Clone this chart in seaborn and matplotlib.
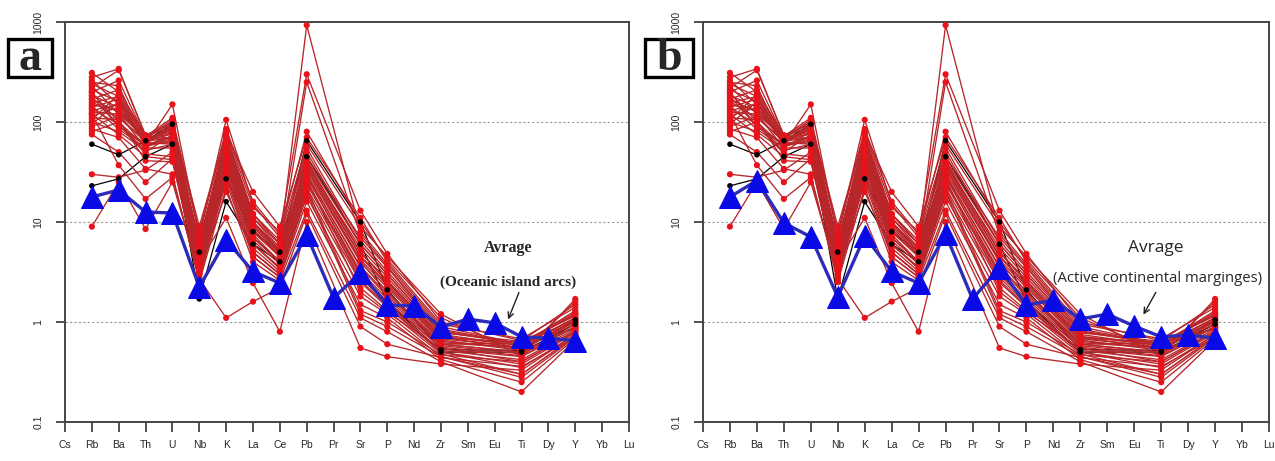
import numpy as np
import pandas as pd
import matplotlib
matplotlib.use("Agg")
import matplotlib.pyplot as plt
import seaborn as sns
from matplotlib.patches import Rectangle
from matplotlib.ticker import FixedLocator, NullLocator

# ---------------- data ----------------
elements = ["Cs", "Rb", "Ba", "Th", "U", "Nb", "K", "La", "Ce", "Pb", "Pr",
            "Sr", "P", "Nd", "Zr", "Sm", "Eu", "Ti", "Dy", "Y", "Yb", "Lu"]
sample_elements = ["Rb", "Ba", "Th", "U", "Nb", "K", "La", "Ce", "Pb",
                   "Sr", "P", "Zr", "Ti", "Y"]
avg_elements = ["Rb", "Ba", "Th", "U", "Nb", "K", "La", "Ce", "Pb", "Pr",
                "Sr", "P", "Nd", "Zr", "Sm", "Eu", "Ti", "Dy", "Y"]

rb = [310, 280, 260, 250, 240, 230, 220, 210, 200, 195, 185, 180, 170, 160, 155, 150, 145, 140,
      135, 130, 125, 120, 115, 110, 105, 100, 95, 90, 85, 80, 75, 120, 170, 200, 30, 9]
ba = [200, 340, 150, 230, 180, 120, 330, 160, 260, 100, 140, 90, 210, 110, 180, 130, 85, 170,
      95, 150, 120, 75, 140, 105, 190, 80, 160, 115, 70, 100, 50, 37, 125, 90, 28, 25]
th = [70, 72, 65, 60, 68, 55, 74, 62, 70, 50, 66, 58, 72, 64, 60, 68, 55, 62,
      48, 66, 70, 45, 60, 41, 65, 52, 58, 63, 34, 57, 25, 17, 69, 61, 33, 8.5]
u = [100, 90, 85, 150, 70, 80, 95, 60, 105, 75, 88, 65, 110, 70, 95, 80, 55, 85,
     45, 90, 75, 42, 68, 40, 85, 60, 72, 78, 30, 66, 43, 28, 100, 62, 50, 25]
nb = [5, 6, 4, 7, 4.5, 3.5, 8, 3, 5.5, 4, 6.5, 3.2, 7.5, 4.2, 5, 3.8, 2.8, 6,
      3.4, 5.2, 4.8, 2.6, 4, 3, 6, 3.5, 4.4, 5.8, 2.5, 3.6, 4, 2.7, 9, 4.6, 3.3, 3]
k = [60, 75, 50, 105, 45, 40, 80, 35, 65, 45, 70, 32, 85, 48, 60, 52, 30, 68,
     38, 55, 62, 28, 45, 35, 72, 40, 50, 58, 22, 42, 11, 1.1, 78, 55, 20, 25]
la = [10, 12, 8, 15, 7, 6, 14, 5.5, 11, 7.5, 12, 5, 16, 8, 10, 9, 5, 11,
      6, 9.5, 10, 4.5, 7, 6, 12, 6.5, 8.5, 10, 4, 7, 2.45, 1.6, 20, 9, 5, 4.5]
ce = [5, 6, 4.5, 7, 4, 3.5, 8, 3.2, 6, 4, 6.5, 3, 7.5, 4.5, 5, 4.8, 3, 5.5,
      3.4, 5, 5.5, 2.8, 4, 3.5, 6, 3.8, 4.6, 5.2, 2.6, 4, 0.8, 2.2, 9, 4.8, 3, 2.8]
pb = [40, 930, 35, 60, 30, 25, 300, 22, 50, 28, 45, 20, 80, 32, 40, 36, 18, 250,
      24, 38, 42, 16, 30, 26, 55, 27, 34, 40, 13, 29, 10, 12, 70, 38, 22, 20]
sr = [5, 8, 4, 9, 3.5, 3, 13, 2.5, 6, 3.2, 7, 2.2, 10, 4, 5, 4.5, 1.8, 7.5,
      2.8, 5.5, 6, 1.5, 3.6, 2.6, 6.5, 2, 4.2, 5, 1.1, 3, 0.55, 0.9, 11, 4.6, 1.3, 1.2]
p = [2.5, 3.8, 2, 4.5, 1.8, 1.6, 4.8, 1.4, 3, 1.7, 3.5, 1.3, 4.2, 2, 2.6, 2.3, 1.2, 3.6,
     1.5, 2.8, 3, 1.1, 1.9, 1.45, 3.2, 1.25, 2.2, 2.6, 0.8, 1.6, 0.45, 0.6, 4, 2.4, 1, 0.9]
zr = [0.7, 0.9, 0.6, 1.2, 0.6, 0.55, 1.0, 0.5, 0.75, 0.58, 0.8, 0.48, 1.1, 0.62, 0.7, 0.66, 0.45, 0.85,
      0.52, 0.72, 0.78, 0.42, 0.6, 0.5, 0.82, 0.54, 0.64, 0.7, 0.4, 0.56, 0.38, 0.44, 0.95, 0.68, 0.47, 0.45]
ti = [0.55, 0.6, 0.5, 0.45, 0.62, 0.4, 0.65, 0.35, 0.58, 0.48, 0.6, 0.3, 0.5, 0.55, 0.62, 0.52, 0.28, 0.6,
      0.42, 0.58, 0.64, 0.25, 0.5, 0.38, 0.6, 0.45, 0.55, 0.62, 0.2, 0.46, 0.33, 0.36, 0.68, 0.56, 0.4, 0.3]
yy = [1.0, 1.3, 0.9, 1.7, 0.85, 0.8, 1.5, 0.75, 1.1, 0.9, 1.2, 0.72, 1.6, 0.95, 1.0, 1.05, 0.7, 1.25,
      0.82, 1.1, 1.15, 0.68, 0.88, 0.78, 1.2, 0.85, 0.95, 1.05, 0.66, 0.9, 0.75, 0.7, 1.4, 1.0, 0.8, 0.72]

black_sample_1 = [60, 47, 65, 95, 5, 27, 8, 5, 65, 10, 2.1, 0.53, 0.52, 1.05]
black_sample_2 = [23, 27, 45, 60, 1.7, 16, 6, 4, 45, 6, 1.6, 0.5, 0.5, 0.95]

avg_island_arcs = [17.8, 20.9, 12.6, 12.3, 2.24, 6.6, 3.2, 2.45, 7.4, 1.74,
                   3.1, 1.48, 1.45, 0.89, 1.07, 0.98, 0.71, 0.69, 0.65]
avg_cont_margins = [17.8, 26, 9.8, 7.1, 1.78, 7.2, 3.2, 2.45, 7.6, 1.7,
                    3.5, 1.48, 1.65, 1.07, 1.2, 0.91, 0.71, 0.74, 0.69]

y_ticks = [0.1, 1, 10, 100, 1000]
y_tick_labels = ["0.1", "1", "10", "100", "1000"]

# ---------------- frames ----------------
pos = {el: i for i, el in enumerate(elements)}
red_cols = [rb, ba, th, u, nb, k, la, ce, pb, sr, p, zr, ti, yy]
red_rows = []
for i in range(len(rb)):
    for el, col in zip(sample_elements, red_cols):
        red_rows.append({"sample": i, "pos": pos[el], "value": col[i]})
red_df = pd.DataFrame(red_rows)

black_rows = []
for j, s in enumerate([black_sample_1, black_sample_2]):
    for el, v in zip(sample_elements, s):
        black_rows.append({"sample": j, "pos": pos[el], "value": v})
black_df = pd.DataFrame(black_rows)


def avg_df(vals):
    return pd.DataFrame({"pos": [pos[e] for e in avg_elements], "value": vals})


# ---------------- style ----------------
sns.set_style("white")
plt.rcParams["font.family"] = ["Liberation Sans", "DejaVu Sans"]

LINE_RED = "#b8262a"
MARK_RED = "#e8121b"
BLUE_LINE = "#2c2cb8"
BLUE_MARK = "#0a0ae6"

fig = plt.figure(figsize=(12.75, 4.61), dpi=100)
W, H = 1275, 461
ax_a = fig.add_axes([65 / W, 1 - 422 / H, (629 - 65) / W, 400 / H])
ax_b = fig.add_axes([703 / W, 1 - 422 / H, (1269 - 703) / W, 400 / H])


def draw_panel(ax, avg_vals):
    ax.set_yscale("log")
    ax.set_xlim(0, 21)
    ax.set_ylim(0.1, 1000)
    for yv in [1, 10, 100]:
        ax.axhline(yv, color="#9a9a9a", lw=0.8, ls=(0, (2, 2)), zorder=0)
    sns.lineplot(data=black_df, x="pos", y="value", units="sample", estimator=None,
                 sort=False, color="black", linewidth=0.9, ax=ax, legend=False, zorder=1)
    sns.lineplot(data=red_df, x="pos", y="value", units="sample", estimator=None,
                 sort=False, color=LINE_RED, linewidth=0.95, ax=ax, legend=False, zorder=2)
    sns.scatterplot(data=red_df, x="pos", y="value", color=MARK_RED, s=20,
                    edgecolor="none", ax=ax, legend=False, zorder=3)
    sns.scatterplot(data=black_df, x="pos", y="value", color="black", s=16,
                    edgecolor="none", ax=ax, legend=False, zorder=4)
    sns.lineplot(data=avg_df(avg_vals), x="pos", y="value", sort=False,
                 color=BLUE_LINE, linewidth=2.4, marker="^", markersize=16,
                 markerfacecolor=BLUE_MARK, markeredgecolor=BLUE_MARK,
                 ax=ax, legend=False, zorder=6)
    ax.set_xlabel("")
    ax.set_ylabel("")
    ax.xaxis.set_major_locator(FixedLocator(range(len(elements))))
    ax.set_xticklabels(elements, fontsize=7.5)
    ax.yaxis.set_major_locator(FixedLocator(y_ticks))
    ax.yaxis.set_minor_locator(NullLocator())
    ax.set_yticklabels(y_tick_labels, fontsize=7.5)
    plt.setp(ax.get_yticklabels(), rotation=90, va="center")
    ax.tick_params(axis="x", direction="out", length=7, width=1.2, color="#333333",
                   pad=6, bottom=True)
    ax.tick_params(axis="y", direction="out", length=6.5, width=1.2, color="#333333",
                   pad=9, left=True)
    for sp in ax.spines.values():
        sp.set_color("#444444")
        sp.set_linewidth(1.4)
        sp.set_visible(True)
    ax.set_facecolor("white")


draw_panel(ax_a, avg_island_arcs)
draw_panel(ax_b, avg_cont_margins)

# annotations panel a
ax_a.text(16.5, 5.5, "Avrage", ha="center", va="center", fontsize=11.5,
          fontweight="bold", family=["Liberation Serif", "DejaVu Serif"], zorder=7)
ax_a.text(16.5, 2.5, "(Oceanic island arcs)", ha="center", va="center", fontsize=11,
          fontweight="bold", family=["Liberation Serif", "DejaVu Serif"], zorder=7)
ax_a.annotate("", xy=(16.46, 1.0), xytext=(16.94, 2.09),
              arrowprops=dict(arrowstyle="->", color="#222222", lw=1.0), zorder=7)

# annotations panel b
ax_b.text(16.81, 5.5, "Avrage", ha="center", va="center", fontsize=12.5,
          family=["Open Sans", "DejaVu Sans"], zorder=7)
ax_b.text(16.88, 2.75, "(Active continental marginges)", ha="center", va="center",
          fontsize=10.7, family=["Open Sans", "DejaVu Sans"], zorder=7)
ax_b.annotate("", xy=(16.29, 1.12), xytext=(16.85, 2.09),
              arrowprops=dict(arrowstyle="->", color="#222222", lw=1.0), zorder=7)

# panel letters in boxes
for (x0, x1, letter) in [(8, 52, "a"), (645, 693, "b")]:
    fig.patches.append(Rectangle((x0 / W, 1 - 77 / H), (x1 - x0) / W, 38 / H,
                                 transform=fig.transFigure, fill=True, facecolor="white",
                                 edgecolor="black", linewidth=2.4))
    fig.text((x0 + x1) / 2 / W, 1 - 70 / H, letter, ha="center", va="baseline",
             fontsize=33, fontweight="bold", family=["Liberation Serif", "DejaVu Serif"])

fig.savefig("out.png", dpi=100, facecolor="white")
